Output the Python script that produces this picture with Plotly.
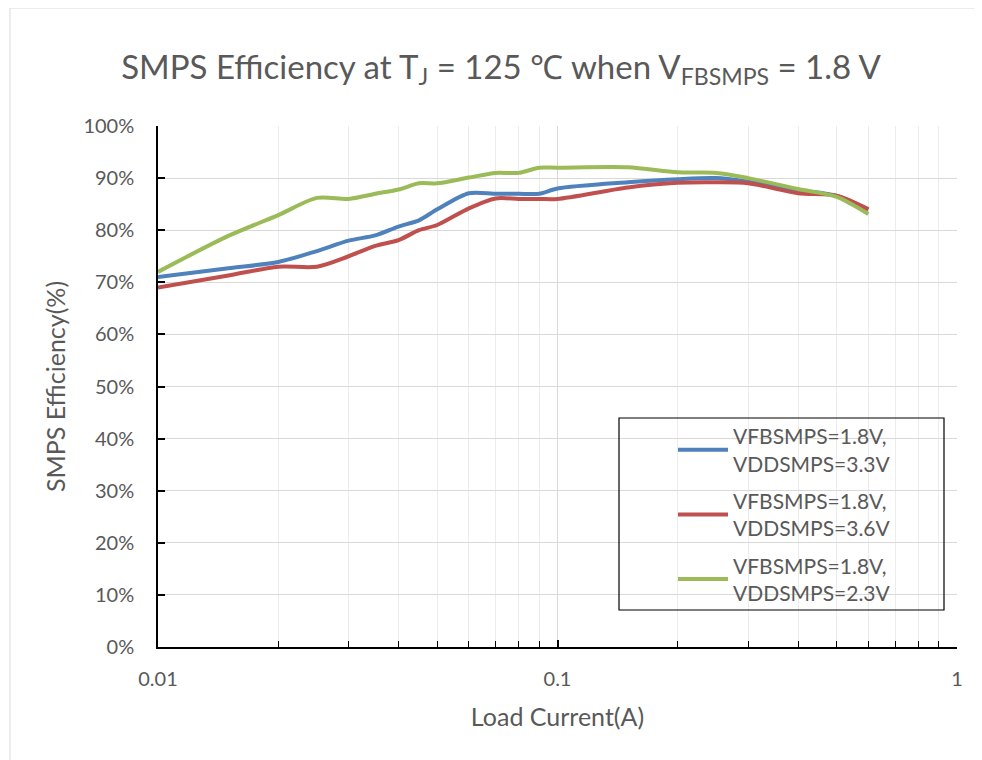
import plotly.graph_objects as go

# Data
current_a = [0.01, 0.015, 0.02, 0.025, 0.03, 0.035, 0.04, 0.045, 0.05, 0.06, 0.07,
             0.08, 0.09, 0.1, 0.15, 0.2, 0.25, 0.3, 0.4, 0.5, 0.6]
eff_3v3 = [71.0, 72.7, 73.9, 76.0, 78.0, 79.0, 80.7, 81.9, 84.0, 87.1, 87.0,
           87.0, 87.0, 88.0, 89.2, 89.8, 90.0, 89.3, 87.7, 86.6, 84.0]
eff_3v6 = [69.0, 71.3, 73.0, 73.0, 75.0, 77.0, 78.1, 80.0, 81.0, 84.2, 86.1,
           86.0, 86.0, 86.0, 88.2, 89.1, 89.2, 89.0, 87.1, 86.6, 84.0]
eff_2v3 = [72.0, 78.9, 82.9, 86.2, 86.0, 87.0, 87.8, 89.0, 89.0, 90.1, 91.0,
           91.0, 92.0, 92.0, 92.1, 91.1, 91.0, 90.0, 87.9, 86.4, 83.1]

series_names = ["VFBSMPS=1.8V,<br>VDDSMPS=3.3V",
                "VFBSMPS=1.8V,<br>VDDSMPS=3.6V",
                "VFBSMPS=1.8V,<br>VDDSMPS=2.3V"]
series_values = [eff_3v3, eff_3v6, eff_2v3]
series_colors = ["#4f81bd", "#c0504d", "#9bbb59"]

x_tickvals = [0.01, 0.1, 1]
x_ticktext = ["0.01", "0.1", "1"]
y_tickvals = list(range(0, 101, 10))
y_ticktext = [f"{v}%" for v in y_tickvals]

FONT = "Lato"
GRAY = "#595959"

fig = go.Figure()
for i, (name, vals, col) in enumerate(zip(series_names, series_values, series_colors)):
    fig.add_trace(go.Scatter(
        x=current_a, y=vals, name=name, mode="lines",
        line=dict(color=col, width=4, shape="spline", smoothing=0.8),
        legendgroup=f"g{i}",
    ))

# page body has an 8px margin; screenshot coordinates are converted
OFF = 8
W, H = 982 - OFF, 760 - OFF
L, R, T, B = 158 - OFF, 957 - OFF, 126 - OFF, 647 - OFF
pw, ph = R - L, B - T

def px_x(p):
    return (p - OFF - L) / pw

def px_y(p):
    return (B - (p - OFF)) / ph

fig.update_layout(
    width=W, height=H,
    margin=dict(l=L, r=W - R, t=T, b=H - B, autoexpand=False),
    paper_bgcolor="white", plot_bgcolor="white",
    font=dict(family=FONT, color=GRAY, size=20),
    title=dict(
        text="SMPS Efficiency at T<sub>J</sub> = 125 ℃ when V<sub>FBSMPS</sub> = 1.8 V",
        x=(501 - OFF) / W, xanchor="center", xref="container",
        y=1 - (67 - OFF) / H, yanchor="middle", yref="container",
        font=dict(family=FONT, size=33, color=GRAY),
    ),
    showlegend=True,
    legend=dict(
        x=px_x(673), y=px_y(416), xanchor="left", yanchor="top",
        bgcolor="rgba(0,0,0,0)", borderwidth=0,
        font=dict(family=FONT, size=21, color=GRAY),
        tracegroupgap=7, itemwidth=50,
    ),
    shapes=[
        dict(type="rect", xref="paper", yref="paper",
             x0=px_x(619), x1=px_x(944), y0=px_y(610), y1=px_y(418),
             line=dict(color="black", width=1.2), fillcolor="rgba(0,0,0,0)", layer="above"),
        dict(type="rect", xref="paper", yref="paper",
             x0=px_x(10), x1=px_x(981), y0=px_y(790), y1=px_y(8),
             line=dict(color="#d9d9d9", width=1), fillcolor="rgba(0,0,0,0)", layer="below"),
    ],
)

fig.update_xaxes(
    type="log", range=[-2, 0],
    tickvals=x_tickvals, ticktext=x_ticktext,
    ticks="inside", ticklen=7, tickcolor="black", tickwidth=1.5,
    showline=True, linecolor="black", linewidth=1.5,
    showgrid=True, gridcolor="#d9d9d9", gridwidth=1,
    minor=dict(dtick="D1", ticks="inside", ticklen=6, tickcolor="black", tickwidth=1,
               showgrid=True, gridcolor="#ececec", gridwidth=1),
    tickfont=dict(family=FONT, size=20, color=GRAY),
    ticklabelstandoff=13,
    title=dict(text="Load Current(A)", font=dict(family=FONT, size=25, color=GRAY), standoff=20),
    zeroline=False,
)
fig.update_yaxes(
    range=[0, 100],
    tickvals=y_tickvals, ticktext=y_ticktext,
    ticks="inside", ticklen=7, tickcolor="black", tickwidth=1.5,
    showline=True, linecolor="black", linewidth=1.5,
    showgrid=True, gridcolor="#d9d9d9", gridwidth=1,
    tickfont=dict(family=FONT, size=20, color=GRAY),
    ticklabelstandoff=18,
    title=dict(text="SMPS Efficiency(%)", font=dict(family=FONT, size=25, color=GRAY), standoff=11),
    zeroline=False,
)

fig.write_html("out.html")
